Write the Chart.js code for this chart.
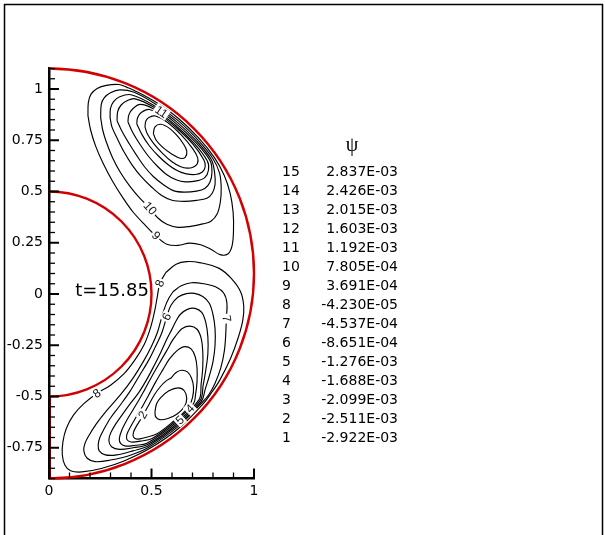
<!DOCTYPE html>
<html>
<head>
<meta charset="utf-8">
<script src="https://cdn.jsdelivr.net/npm/chart.js@4.4.1/dist/chart.umd.min.js"></script>
<style>
  html, body { margin: 0; padding: 0; background: #fff; }
  #wrap { position: relative; width: 605px; height: 535px; }
</style>
</head>
<body>
<div id="wrap"><canvas id="c" width="605" height="535"></canvas></div>
<script>
// Axis ticks
const xTickValues = [0, 0.5, 1];
const xTickLabels = ['0', '0.5', '1'];
const yTickValues = [-0.75, -0.5, -0.25, 0, 0.25, 0.5, 0.75, 1];
const yTickLabels = ['-0.75', '-0.5', '-0.25', '0', '0.25', '0.5', '0.75', '1'];

// Contour level table
const levelIds = [15, 14, 13, 12, 11, 10, 9, 8, 7, 6, 5, 4, 3, 2, 1];
const levelValues = ['2.837E-03', '2.426E-03', '2.015E-03', '1.603E-03', '1.192E-03',
  '7.805E-04', '3.691E-04', '-4.230E-05', '-4.537E-04', '-8.651E-04',
  '-1.276E-03', '-1.688E-03', '-2.099E-03', '-2.511E-03', '-2.922E-03'];
const timeLabel = 't=15.85';

// Cylinder walls (centre x, centre y, radius)
const innerWall = [0, 0, 0.5];
const outerWall = [0, 0.1, 1];

// Stream-function iso-lines, upper (positive) cell, outermost first
const upper9 = [[0.190,0.870],[0.192,0.935],[0.205,0.975],[0.235,1.003],[0.280,1.018],[0.340,1.022],[0.380,1.008],[0.416,0.993],[0.522,0.935],[0.633,0.855],[0.732,0.759],[0.807,0.665],[0.855,0.578],[0.884,0.490],[0.898,0.400],[0.900,0.310],[0.893,0.235],[0.872,0.195],[0.835,0.192],[0.790,0.218],[0.740,0.240],[0.685,0.248],[0.630,0.237],[0.575,0.243],[0.525,0.280],[0.470,0.335],[0.410,0.400],[0.360,0.470],[0.310,0.550],[0.265,0.635],[0.228,0.720],[0.203,0.800],[0.190,0.870]];
const upper10 = [[0.252,0.860],[0.255,0.925],[0.270,0.958],[0.300,0.982],[0.345,0.996],[0.412,0.985],[0.517,0.928],[0.627,0.848],[0.725,0.753],[0.800,0.660],[0.832,0.590],[0.840,0.520],[0.836,0.450],[0.820,0.390],[0.790,0.355],[0.750,0.342],[0.690,0.330],[0.630,0.325],[0.575,0.340],[0.530,0.372],[0.493,0.418],[0.445,0.465],[0.395,0.525],[0.350,0.590],[0.310,0.665],[0.280,0.740],[0.262,0.800],[0.252,0.860]];
const upper11 = [[0.298,0.860],[0.300,0.905],[0.315,0.938],[0.345,0.962],[0.400,0.972],[0.512,0.920],[0.622,0.841],[0.719,0.747],[0.792,0.655],[0.808,0.590],[0.810,0.535],[0.797,0.493],[0.770,0.467],[0.720,0.457],[0.660,0.452],[0.600,0.457],[0.550,0.480],[0.500,0.522],[0.450,0.572],[0.405,0.630],[0.365,0.695],[0.330,0.765],[0.307,0.815],[0.298,0.860]];
const upper12 = [[0.332,0.845],[0.335,0.890],[0.352,0.922],[0.385,0.945],[0.420,0.952],[0.508,0.913],[0.616,0.835],[0.713,0.742],[0.786,0.650],[0.795,0.595],[0.785,0.545],[0.760,0.515],[0.720,0.502],[0.660,0.497],[0.610,0.503],[0.560,0.532],[0.510,0.572],[0.465,0.622],[0.425,0.680],[0.390,0.735],[0.358,0.790],[0.332,0.845]];
const upper13 = [[0.385,0.840],[0.390,0.875],[0.410,0.905],[0.445,0.925],[0.504,0.906],[0.611,0.828],[0.707,0.736],[0.772,0.650],[0.778,0.605],[0.760,0.568],[0.720,0.552],[0.665,0.547],[0.620,0.557],[0.575,0.582],[0.530,0.622],[0.485,0.672],[0.445,0.728],[0.410,0.785],[0.385,0.840]];
const upper14 = [[0.428,0.830],[0.432,0.860],[0.450,0.885],[0.490,0.900],[0.555,0.864],[0.632,0.801],[0.701,0.732],[0.755,0.655],[0.762,0.622],[0.748,0.595],[0.715,0.583],[0.665,0.587],[0.625,0.602],[0.580,0.632],[0.535,0.672],[0.490,0.722],[0.455,0.775],[0.428,0.830]];
const upper15 = [[0.468,0.815],[0.473,0.845],[0.490,0.862],[0.520,0.868],[0.577,0.838],[0.645,0.776],[0.700,0.710],[0.725,0.665],[0.724,0.637],[0.705,0.620],[0.675,0.614],[0.640,0.622],[0.600,0.645],[0.555,0.685],[0.510,0.735],[0.480,0.780],[0.468,0.815]];
const upperCore = [[0.509,0.783],[0.517,0.815],[0.545,0.828],[0.588,0.808],[0.625,0.772],[0.655,0.733],[0.672,0.697],[0.665,0.668],[0.640,0.662],[0.600,0.682],[0.555,0.715],[0.523,0.750],[0.509,0.783]];

// Lower (negative) cell, outermost first
const lower8 = [[0.570,0.105],[0.620,0.145],[0.672,0.158],[0.740,0.152],[0.830,0.125],[0.890,0.075],[0.935,0.010],[0.950,-0.060],[0.945,-0.130],[0.922,-0.216],[0.886,-0.313],[0.833,-0.420],[0.795,-0.478],[0.754,-0.533],[0.633,-0.655],[0.4925,-0.753],[0.369,-0.813],[0.255,-0.851],[0.160,-0.868],[0.105,-0.862],[0.078,-0.835],[0.065,-0.785],[0.068,-0.720],[0.085,-0.655],[0.120,-0.590],[0.170,-0.535],[0.233,-0.485],[0.300,-0.445],[0.365,-0.390],[0.420,-0.320],[0.465,-0.245],[0.495,-0.165],[0.515,-0.085],[0.528,-0.015],[0.541,0.052],[0.570,0.105]];
const lower7 = [[0.606,0.012],[0.645,0.040],[0.695,0.055],[0.755,0.050],[0.812,0.035],[0.852,0.005],[0.868,-0.045],[0.865,-0.120],[0.862,-0.200],[0.855,-0.280],[0.838,-0.360],[0.810,-0.435],[0.780,-0.490],[0.748,-0.528],[0.628,-0.648],[0.4885,-0.746],[0.400,-0.785],[0.300,-0.810],[0.225,-0.818],[0.185,-0.800],[0.170,-0.765],[0.175,-0.730],[0.195,-0.690],[0.230,-0.635],[0.280,-0.570],[0.350,-0.490],[0.410,-0.410],[0.460,-0.330],[0.500,-0.255],[0.530,-0.184],[0.548,-0.120],[0.565,-0.065],[0.585,-0.020],[0.606,0.012]];
const lower6 = [[0.574,-0.111],[0.595,-0.055],[0.630,-0.015],[0.670,0.002],[0.710,0.003],[0.750,-0.012],[0.782,-0.045],[0.800,-0.100],[0.810,-0.170],[0.810,-0.250],[0.800,-0.330],[0.782,-0.400],[0.762,-0.465],[0.743,-0.524],[0.624,-0.643],[0.485,-0.740],[0.410,-0.765],[0.330,-0.785],[0.275,-0.785],[0.245,-0.765],[0.240,-0.735],[0.248,-0.700],[0.268,-0.660],[0.300,-0.605],[0.345,-0.545],[0.395,-0.475],[0.440,-0.400],[0.485,-0.325],[0.520,-0.255],[0.550,-0.190],[0.574,-0.111]];
const lower5 = [[0.615,-0.140],[0.640,-0.100],[0.675,-0.075],[0.712,-0.070],[0.745,-0.090],[0.765,-0.140],[0.775,-0.210],[0.775,-0.290],[0.765,-0.370],[0.752,-0.445],[0.738,-0.519],[0.619,-0.638],[0.4815,-0.734],[0.410,-0.750],[0.345,-0.758],[0.305,-0.745],[0.292,-0.715],[0.300,-0.680],[0.325,-0.635],[0.360,-0.585],[0.400,-0.530],[0.435,-0.485],[0.475,-0.420],[0.510,-0.355],[0.545,-0.285],[0.575,-0.220],[0.598,-0.175],[0.615,-0.140]];
const lower4 = [[0.625,-0.195],[0.650,-0.168],[0.688,-0.157],[0.722,-0.172],[0.742,-0.215],[0.750,-0.280],[0.750,-0.360],[0.742,-0.440],[0.732,-0.515],[0.615,-0.632],[0.478,-0.728],[0.420,-0.738],[0.375,-0.742],[0.350,-0.730],[0.343,-0.705],[0.355,-0.665],[0.380,-0.615],[0.410,-0.565],[0.440,-0.515],[0.465,-0.470],[0.500,-0.405],[0.540,-0.335],[0.575,-0.275],[0.600,-0.230],[0.625,-0.195]];
const lower3 = [[0.610,-0.290],[0.635,-0.268],[0.663,-0.257],[0.693,-0.268],[0.713,-0.305],[0.722,-0.360],[0.722,-0.430],[0.715,-0.490],[0.705,-0.535],[0.610,-0.627],[0.503,-0.705],[0.445,-0.718],[0.400,-0.722],[0.380,-0.710],[0.380,-0.685],[0.398,-0.648],[0.425,-0.600],[0.455,-0.550],[0.485,-0.495],[0.520,-0.430],[0.555,-0.370],[0.585,-0.320],[0.610,-0.290]];
const lower2 = [[0.595,-0.410],[0.620,-0.383],[0.647,-0.372],[0.675,-0.380],[0.695,-0.410],[0.705,-0.455],[0.700,-0.505],[0.678,-0.555],[0.606,-0.622],[0.527,-0.682],[0.470,-0.700],[0.430,-0.708],[0.412,-0.698],[0.412,-0.675],[0.428,-0.642],[0.448,-0.610],[0.468,-0.575],[0.490,-0.535],[0.515,-0.490],[0.545,-0.450],[0.570,-0.425],[0.595,-0.410]];
const lower1 = [[0.517,-0.574],[0.525,-0.535],[0.545,-0.505],[0.585,-0.472],[0.631,-0.458],[0.660,-0.472],[0.672,-0.510],[0.660,-0.550],[0.625,-0.585],[0.580,-0.607],[0.540,-0.613],[0.520,-0.598],[0.517,-0.574]];

const contourLines = [upper9, upper10, upper11, upper12, upper13, upper14, upper15, upperCore,
  lower8, lower7, lower6, lower5, lower4, lower3, lower2, lower1];

// In-line level labels
const labelText = ['11', '10', '9', '8', '8', '7', '6', '2', '5', '4'];
const labelAt = [[0.548,0.889],[0.493,0.418],[0.522,0.284],[0.541,0.052],[0.233,-0.485],
  [0.866,-0.120],[0.574,-0.111],[0.458,-0.590],[0.639,-0.616],[0.688,-0.559]];
const labelAngle = [34, 48, 45, -70, -34, 80, -62, -60, -42, -46];

const DEG = Math.PI / 180;

const decor = {
  id: 'decor',
  beforeDraw(chart) {
    const ctx = chart.ctx;
    const xs = chart.scales.x, ys = chart.scales.y;
    ctx.save();
    ctx.fillStyle = '#fff';
    ctx.fillRect(0, 0, chart.width, chart.height);
    // straight closing segment of the lower gap along the symmetry line
    ctx.strokeStyle = '#d40000';
    ctx.lineWidth = 2;
    const x0 = xs.getPixelForValue(0) + 1;
    ctx.beginPath();
    ctx.moveTo(x0, ys.getPixelForValue(innerWall[1] - innerWall[2]));
    ctx.lineTo(x0, ys.getPixelForValue(outerWall[1] - outerWall[2]));
    ctx.stroke();
    ctx.restore();
  },
  afterDatasetsDraw(chart) {
    const ctx = chart.ctx;
    const xs = chart.scales.x, ys = chart.scales.y;
    // level labels sitting on their iso-lines
    ctx.save();
    ctx.font = '12px "Liberation Sans"';
    ctx.textAlign = 'center';
    ctx.textBaseline = 'middle';
    labelText.forEach((t, i) => {
      const [lx, ly] = labelAt[i];
      ctx.save();
      ctx.translate(xs.getPixelForValue(lx), ys.getPixelForValue(ly));
      ctx.rotate(labelAngle[i] * DEG);
      const w = ctx.measureText(t).width;
      ctx.fillStyle = '#fff';
      ctx.fillRect(-w / 2 - 1.5, -5.5, w + 3, 11);
      ctx.fillStyle = '#111';
      ctx.fillText(t, 0, 0.5);
      ctx.restore();
    });
    ctx.restore();
    // cylinder walls (right halves)
    ctx.save();
    ctx.strokeStyle = '#d40000';
    ctx.lineWidth = 2.4;
    [innerWall, outerWall].forEach(([cxv, cyv, r]) => {
      const cx = xs.getPixelForValue(cxv), cy = ys.getPixelForValue(cyv);
      const rx = xs.getPixelForValue(cxv + r) - cx;
      const ry = cy - ys.getPixelForValue(cyv + r);
      ctx.beginPath();
      ctx.ellipse(cx, cy, rx, ry, 0, -Math.PI / 2, Math.PI / 2);
      ctx.stroke();
    });
    ctx.restore();
  },
  afterDraw(chart) {
    const ctx = chart.ctx;
    const xs = chart.scales.x, ys = chart.scales.y;
    const ax = xs.getPixelForValue(0), ay = ys.getPixelForValue(-0.9);
    ctx.save();
    ctx.strokeStyle = '#000';
    // inward tick marks on the left axis
    for (let k = -18; k <= 22; k++) {
      const major = k % 5 === 0;
      const yy = ys.getPixelForValue(k * 0.05);
      ctx.lineWidth = major ? 2 : 1.3;
      ctx.beginPath();
      ctx.moveTo(ax, yy);
      ctx.lineTo(ax + (major ? 10 : 6), yy);
      ctx.stroke();
    }
    // inward tick marks on the bottom axis
    for (let k = 0; k <= 10; k++) {
      const major = k % 5 === 0;
      const xx = xs.getPixelForValue(k * 0.1);
      ctx.lineWidth = major ? 2 : 1.3;
      ctx.beginPath();
      ctx.moveTo(xx, ay);
      ctx.lineTo(xx, ay - (major ? 10 : 6));
      ctx.stroke();
    }
    ctx.restore();

    ctx.save();
    ctx.fillStyle = '#000';
    ctx.textBaseline = 'middle';
    // time stamp
    ctx.font = '18px "DejaVu Sans"';
    ctx.textAlign = 'center';
    ctx.fillText(timeLabel, 112, 291);

    // level table
    ctx.font = '20px "Liberation Serif"';
    ctx.textAlign = 'center';
    ctx.fillText('\u03C8', 352, 146);
    ctx.font = '14px "DejaVu Sans"';
    levelIds.forEach((id, i) => {
      const yy = 172 + i * 19;
      ctx.textAlign = 'left';
      ctx.fillText(String(id), 282, yy);
      ctx.textAlign = 'right';
      ctx.fillText(levelValues[i], 398, yy);
    });

    // outer frame
    ctx.strokeStyle = '#000';
    ctx.lineWidth = 1.5;
    ctx.strokeRect(4.5, 4.5, 598, 600);
    ctx.restore();
  }
};

const datasets = contourLines.map(line => ({
  data: line.map(([x, y]) => ({ x, y })),
  showLine: true,
  borderColor: '#000',
  borderWidth: 1.15,
  pointRadius: 0,
  pointHoverRadius: 0,
  tension: 0.35,
  fill: false
}));

new Chart(document.getElementById('c').getContext('2d'), {
  type: 'scatter',
  data: { datasets },
  options: {
    responsive: false,
    animation: false,
    devicePixelRatio: 1,
    events: [],
    layout: { padding: { left: 4, top: 68.5, right: 351, bottom: 26.5 } },
    plugins: { legend: { display: false }, tooltip: { enabled: false } },
    scales: {
      x: {
        type: 'linear', min: 0, max: 1, position: 'bottom',
        afterFit(s) { s.height = 30; },
        afterBuildTicks(s) { s.ticks = xTickValues.map(v => ({ value: v })); },
        ticks: {
          callback: v => xTickLabels[xTickValues.indexOf(v)],
          font: { family: 'DejaVu Sans', size: 14 }, color: '#000',
          padding: 4, maxRotation: 0, autoSkip: false
        },
        grid: { display: false, drawTicks: false },
        border: { display: true, color: '#000', width: 2.5 }
      },
      y: {
        type: 'linear', min: -0.9, max: 1.1, position: 'left',
        afterFit(s) { s.width = 45; },
        afterBuildTicks(s) { s.ticks = yTickValues.map(v => ({ value: v })); },
        ticks: {
          callback: v => yTickLabels[yTickValues.indexOf(v)],
          font: { family: 'DejaVu Sans', size: 14 }, color: '#000',
          padding: 6, autoSkip: false
        },
        grid: { display: false, drawTicks: false },
        border: { display: true, color: '#000', width: 2.5 }
      }
    }
  },
  plugins: [decor]
});
</script>
</body>
</html>
